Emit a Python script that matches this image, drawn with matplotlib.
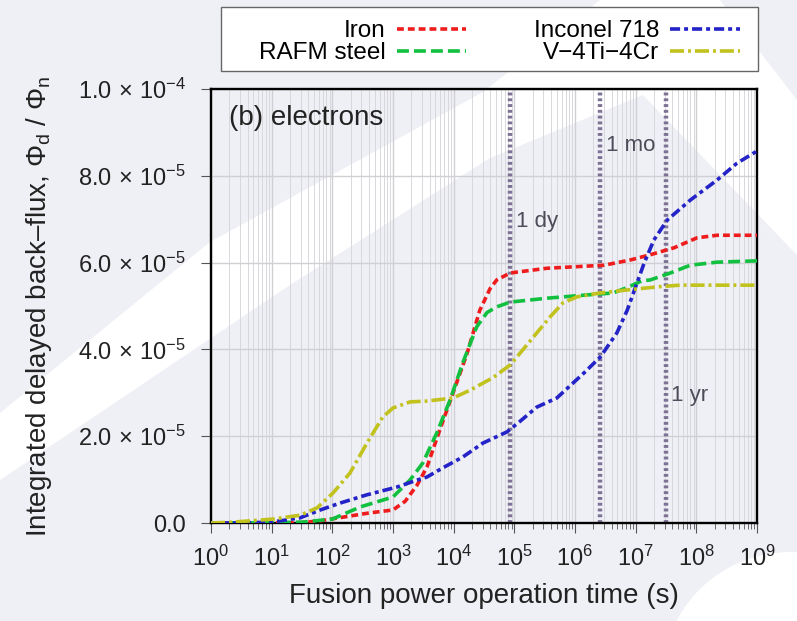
import numpy as np
import matplotlib
matplotlib.use('Agg')
import matplotlib.pyplot as plt
from matplotlib.patches import Polygon, Ellipse, Rectangle
from matplotlib.ticker import FuncFormatter, LogLocator, FixedLocator

plt.rcParams['font.family'] = ['Liberation Sans', 'DejaVu Sans']
plt.rcParams['mathtext.fontset'] = 'custom'
plt.rcParams['mathtext.rm'] = 'Liberation Sans'
plt.rcParams['mathtext.it'] = 'Liberation Sans:italic'

# data: log10(time in s), back-flux in units of 1e-6
iron_logt = [0, 1.0, 1.5, 1.8, 2.2, 2.6, 3.0, 3.2, 3.4, 3.56, 3.77, 3.99, 4.22,
             4.43, 4.6, 4.71, 4.93, 5.54, 6.48, 6.91, 7.24, 7.63, 8.01, 8.34, 9.0]
iron_y = [0, 0, 0.1, 0.5, 1.4, 2.3, 3.0, 5.0, 8.8, 12.9, 21.4, 30.0, 39.0,
          49.0, 54.0, 56.0, 57.6, 58.7, 59.4, 60.6, 61.8, 63.4, 65.7, 66.3, 66.3]

rafm_logt = [0, 1.0, 1.5, 2.0, 2.46, 3.0, 3.28, 3.49, 3.72, 3.94, 4.15, 4.38,
             4.55, 4.71, 4.93, 5.54, 6.15, 6.63, 6.9, 7.1, 7.24, 7.57, 7.9, 8.34, 9.0]
rafm_y = [0, 0.05, 0.2, 0.9, 3.7, 6.0, 9.9, 13.8, 20.7, 28.3, 36.9, 45.2,
          48.5, 49.8, 50.9, 51.8, 52.5, 53.0, 54.5, 55.8, 56.0, 57.6, 59.4, 60.1, 60.4]

inconel_logt = [0, 0.5, 1.0, 1.47, 1.8, 2.13, 2.57, 3.07, 3.4, 3.56, 3.82, 4.15,
                4.48, 4.88, 5.1, 5.37, 5.7, 6.15, 6.42, 6.69, 6.86, 6.95, 7.14,
                7.3, 7.52, 7.9, 8.34, 8.67, 9.0]
inconel_y = [0, 0.02, 0.2, 1.2, 3.0, 4.6, 6.5, 8.3, 9.9, 10.6, 12.7, 15.2,
             18.4, 21.0, 23.5, 26.7, 28.8, 34.6, 38.3, 43.8, 49.0, 52.5, 59.9,
             65.2, 69.8, 74.4, 79.0, 82.9, 85.7]

vanad_logt = [0, 0.36, 1.02, 1.47, 1.75, 2.01, 2.29, 2.57, 2.83, 3.0, 3.28, 3.56,
              3.99, 4.27, 4.65, 4.93, 5.14, 5.37, 5.59, 5.8, 6.03, 6.41, 6.86,
              7.35, 7.73, 9.0]
vanad_y = [0, 0.2, 0.9, 1.8, 3.5, 6.9, 11.5, 18.4, 24.4, 26.5, 27.9, 28.1,
           28.8, 30.6, 33.5, 36.4, 39.9, 43.8, 47.5, 50.7, 52.1, 53.0, 53.7,
           54.4, 54.8, 54.8]

labels = ['Iron', 'RAFM steel', 'Inconel 718', 'V\u22124Ti\u22124Cr']
colors = ['#ee1c1c', '#12c040', '#2323c8', '#c2c21e']
dashes = [(1.9, 1.1), (3.3, 1.4), (2.8, 1.1, 1.1, 1.1), (3.9, 1.1, 0.8, 1.1)]

marks = [86400, 2.63e6, 3.156e7]
mark_text = ['1 dy', '1 mo', '1 yr']
mark_text_y = [68.2, 85.7, 28.1]

W, H = 797, 621
BG = '#efeff6'


def px(points):
    return [(x / W, 1 - y / H) for x, y in points]


fig = plt.figure(figsize=(W / 100, H / 100), dpi=100, facecolor=BG)

# faint white swooshes of the background
band = [(0, 413), (210, 242), (483, 92), (600, 0), (720, 0), (797, 100),
        (797, 255), (643, 95), (490, 158), (290, 285), (0, 480)]
fig.add_artist(Polygon(px(band), closed=True, transform=fig.transFigure,
                       facecolor='white', edgecolor='none', zorder=-5))
fig.add_artist(Ellipse((790 / W, 1 - 680 / H), 256 / W, 256 / H,
                       transform=fig.transFigure,
                       facecolor='white', edgecolor='none', zorder=-5))

ax = fig.add_axes([211 / W, 1 - 523 / H, 546 / W, 434 / H])
ax.set_facecolor('none')

series = [(iron_logt, iron_y), (rafm_logt, rafm_y),
          (inconel_logt, inconel_y), (vanad_logt, vanad_y)]
for (lt, yv), lab, c, d in zip(series, labels, colors, dashes):
    ax.plot(10.0 ** np.array(lt), np.array(yv) * 1e-6, color=c, lw=2.6,
            dashes=d, label=lab, zorder=3)

for t, txt, ty in zip(marks, mark_text, mark_text_y):
    ax.axvline(t, color='#7d7194', lw=3.2, linestyle=(0, (0.65, 0.65)), zorder=2)
    ax.text(t * 1.22, ty * 1e-6, txt, fontsize=16, color='#4f4c5a',
            ha='left', va='baseline')

ax.set_xscale('log')
ax.set_xlim(1, 1e9)
ax.set_ylim(0, 1e-4)

ax.xaxis.set_major_locator(LogLocator(base=10, numticks=20))
ax.xaxis.set_minor_locator(LogLocator(base=10, subs=np.arange(2, 10), numticks=20))
ax.yaxis.set_major_locator(FixedLocator([0, 2e-5, 4e-5, 6e-5, 8e-5, 1e-4]))


def yfmt(v, pos):
    if v == 0:
        return '0.0'
    e = int(np.floor(np.log10(v) + 1e-9))
    m = v / 10 ** e
    return r'$%.1f\,\times\,10^{%d}$' % (m, e)


ax.yaxis.set_major_formatter(FuncFormatter(yfmt))

ax.grid(True, which='major', axis='both', color='#d0d0d4', lw=1.0, zorder=0)
ax.grid(True, which='minor', axis='x', color='#d8d8dc', lw=0.7, zorder=0)
ax.set_axisbelow(True)

for s in ax.spines.values():
    s.set_linewidth(1.7)
    s.set_color('black')

ax.tick_params(axis='both', which='major', direction='out', length=7, width=0.8,
               color='#555555', labelsize=17, labelcolor='#222222')
ax.tick_params(axis='y', pad=11)
ax.tick_params(axis='x', pad=9)
ax.tick_params(axis='x', which='minor', direction='out', length=4, width=0.6,
               color='#555555')

ax.set_xlabel('Fusion power operation time (s)', fontsize=20, color='#222222',
              labelpad=9)
ax.set_ylabel('Integrated delayed back\u2013flux, $\\Phi_{\\mathrm{d}}$ / $\\Phi_{\\mathrm{n}}$',
              fontsize=20, color='#222222')
ax.yaxis.set_label_coords(-0.2875, 0.5)

ax.text(0.033, 0.917, '(b) electrons', transform=ax.transAxes, fontsize=20,
        color='#222222', ha='left', va='baseline')

# legend box above the axes
fig.add_artist(Rectangle((221 / W, 1 - 71 / H), 537 / W, 64 / H,
                         transform=fig.transFigure, facecolor='white',
                         edgecolor='#666666', lw=1.0, zorder=1))
leg = fig.legend(loc='upper left', ncol=2, markerfirst=False,
                 bbox_to_anchor=(259 / W, 1 - 20 / H),
                 fontsize=17.5, handlelength=2.85, handletextpad=0.45,
                 columnspacing=2.8, frameon=False, borderaxespad=0,
                 labelspacing=0.0, borderpad=0)
leg.set_zorder(2)

fig.savefig('out.png', dpi=100, facecolor=BG)
